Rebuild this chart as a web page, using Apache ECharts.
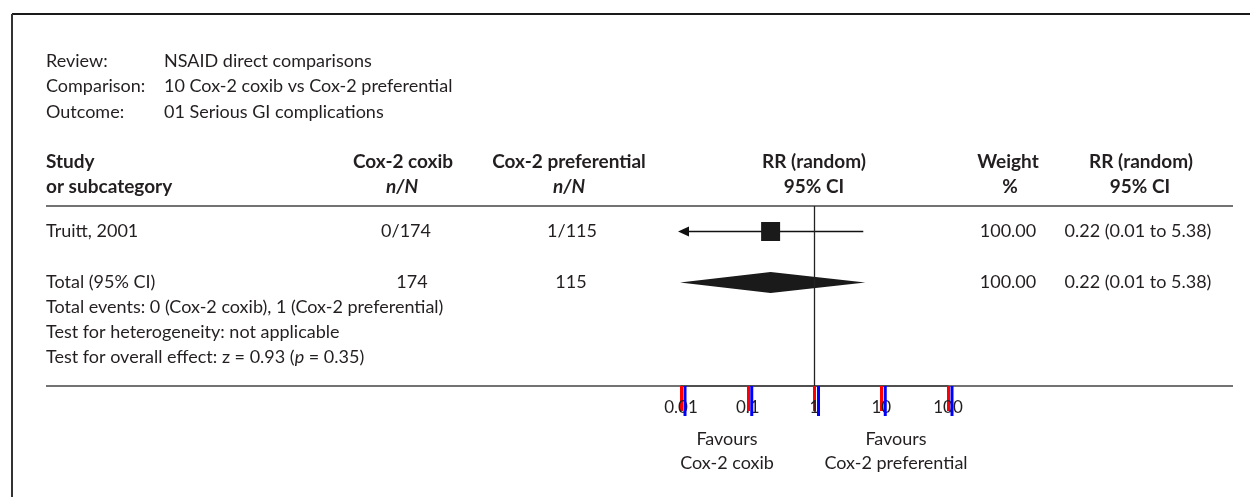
<!DOCTYPE html>
<html>
<head>
<meta charset="utf-8">
<script src="https://cdn.jsdelivr.net/npm/echarts@6/dist/echarts.min.js"></script>
<style>
html,body{margin:0;padding:0;background:#fff;}
#chart{width:1250px;height:497px;}
</style>
</head>
<body>
<div id="chart"></div>
<script>
// ---- data ----
const reviewLabels = ['Review:', 'Comparison:', 'Outcome:'];
const reviewValues = ['NSAID direct comparisons', '10 Cox-2 coxib vs Cox-2 preferential', '01 Serious GI complications'];
const studies = ['Truitt, 2001'];
const coxibNN = ['0/174'];
const prefNN = ['1/115'];
const studyRR = [0.22];
const studyLo = [0.01];
const studyHi = [5.38];
const studyWeight = ['100.00'];
const studyCIText = ['0.22 (0.01 to 5.38)'];
const totalLabel = 'Total (95% CI)';
const totalCoxib = '174';
const totalPref = '115';
const totalRR = 0.22;
const totalLo = 0.01;
const totalHi = 5.38;
const totalWeight = '100.00';
const totalCIText = '0.22 (0.01 to 5.38)';
const footnotes = ['Total events: 0 (Cox-2 coxib), 1 (Cox-2 preferential)', 'Test for heterogeneity: not applicable', 'Test for overall effect: z = 0.93 ({i|p} = 0.35)'];
const tickValues = [0.01, 0.1, 1, 10, 100];
const tickLabels = ['0.01', '0.1', '1', '10', '100'];
const favoursLeft = 'Favours\nCox-2 coxib';
const favoursRight = 'Favours\nCox-2 preferential';

// ---- styling ----
const FONT = 'Lato';
const INK = '#231f20';
const norm = '18px ' + FONT;
const bold = 'bold 19px ' + FONT;
const boldItal = 'italic bold 19px ' + FONT;
const AXMIN = 0.01;
const YMAX = 7.06;

const chart = echarts.init(document.getElementById('chart'));

function txt(text, x, y, align, font) {
  return { type: 'text', x: x, y: y, silent: true,
    style: { text: text, fill: INK, font: font || norm, align: align || 'left', verticalAlign: 'middle' } };
}

const graphics = [];
graphics.push({ type: 'line', shape: { x1: 12, y1: 14, x2: 1250, y2: 14 }, style: { stroke: '#1a1a1a', lineWidth: 2 } });
graphics.push({ type: 'line', shape: { x1: 12, y1: 14, x2: 12, y2: 497 }, style: { stroke: '#333', lineWidth: 2 } });
reviewLabels.forEach((l, i) => {
  graphics.push(txt(l, 46, 61 + i * 25.5, 'left'));
  graphics.push(txt(reviewValues[i], 164, 61 + i * 25.5, 'left'));
});
graphics.push(txt('Study', 46, 162, 'left', bold));
graphics.push(txt('or subcategory', 46, 187, 'left', bold));
graphics.push(txt('Cox-2 coxib', 403, 162, 'center', bold));
graphics.push(txt('n/N', 402, 187, 'center', boldItal));
graphics.push(txt('Cox-2 preferential', 569, 162, 'center', bold));
graphics.push(txt('n/N', 569, 187, 'center', boldItal));
graphics.push(txt('RR (random)', 814, 162, 'center', bold));
graphics.push(txt('95% CI', 814, 187, 'center', bold));
graphics.push(txt('Weight', 1008, 162, 'center', bold));
graphics.push(txt('%', 1010, 187, 'center', bold));
graphics.push(txt('RR (random)', 1141, 162, 'center', bold));
graphics.push(txt('95% CI', 1140, 187, 'center', bold));
graphics.push({ type: 'line', shape: { x1: 46, y1: 206, x2: 1233, y2: 206 }, style: { stroke: '#444', lineWidth: 1.5 } });
graphics.push({ type: 'line', shape: { x1: 46, y1: 386, x2: 1233, y2: 386 }, style: { stroke: '#444', lineWidth: 1.5 } });
footnotes.forEach((f, i) => {
  graphics.push({ type: 'text', x: 46, y: 307 + i * 25, silent: true,
    style: { text: f, fill: INK, font: norm, align: 'left', verticalAlign: 'middle',
      rich: { i: { fill: INK, fontFamily: FONT, fontSize: 18, fontStyle: 'italic' } } } });
});
graphics.push({ type: 'text', x: 727, y: 451, silent: true,
  style: { text: favoursLeft, fill: INK, font: norm, align: 'center', verticalAlign: 'middle', lineHeight: 24 } });
graphics.push({ type: 'text', x: 896, y: 451, silent: true,
  style: { text: favoursRight, fill: INK, font: norm, align: 'center', verticalAlign: 'middle', lineHeight: 24 } });

const studyData = studies.map((s, i) => [studyRR[i], studyLo[i], studyHi[i], 1 + i * 2, i]);
const totalRow = 1 + studies.length * 2;

function studyRender(params, api) {
  const i = api.value(4);
  const yv = YMAX - api.value(3);
  const c = api.coord([api.value(0), yv]);
  const loV = api.value(1), hiV = api.value(2);
  const left = api.coord([Math.max(loV, AXMIN), yv]);
  const right = api.coord([hiV, yv]);
  const y = c[1];
  const children = [];
  let x1 = left[0];
  if (loV <= AXMIN) {
    children.push({ type: 'polygon', shape: { points: [[x1 - 3, y], [x1 + 8, y - 5], [x1 + 8, y + 5]] }, style: { fill: '#111' } });
    x1 = x1 + 4;
  }
  children.push({ type: 'line', shape: { x1: x1, y1: y, x2: right[0], y2: y }, style: { stroke: '#111', lineWidth: 1.3 } });
  const s = 19;
  children.push({ type: 'rect', shape: { x: c[0] - s / 2, y: y - s / 2, width: s, height: s }, style: { fill: '#1a1a1a' } });
  children.push(txt(studies[i], 46, y, 'left'));
  children.push(txt(coxibNN[i], 406, y, 'center'));
  children.push(txt(prefNN[i], 572, y, 'center'));
  children.push(txt(studyWeight[i], 1008, y, 'center'));
  children.push(txt(studyCIText[i], 1138, y, 'center'));
  return { type: 'group', children: children };
}

function totalRender(params, api) {
  const yv = YMAX - api.value(3);
  const c = api.coord([api.value(0), yv]);
  const l = api.coord([Math.max(api.value(1), AXMIN), yv]);
  const r = api.coord([api.value(2), yv]);
  const y = c[1];
  const h = 10.5;
  return { type: 'group', children: [
    { type: 'polygon', shape: { points: [[l[0] - 1, y], [c[0], y - h], [r[0] + 2, y], [c[0], y + h]] }, style: { fill: '#1a1a1a' } },
    txt(totalLabel, 46, y, 'left'),
    txt(totalCoxib, 412, y, 'center'),
    txt(totalPref, 571, y, 'center'),
    txt(totalWeight, 1008, y, 'center'),
    txt(totalCIText, 1138, y, 'center')
  ] };
}

function tickRender(params, api) {
  const p = api.coord([api.value(0), 0]);
  return { type: 'line', shape: { x1: p[0] + 4, y1: p[1], x2: p[0] + 4, y2: p[1] + 30 }, style: { stroke: 'blue', lineWidth: 3 } };
}

chart.setOption({
  animation: false,
  grid: { left: 681, right: 302, top: 206, bottom: 111, containLabel: false },
  xAxis: {
    type: 'log', logBase: 10, min: 0.01, max: 100,
    axisLine: { show: true, lineStyle: { color: '#444', width: 1.5 } },
    axisTick: { show: true, length: 25, lineStyle: { color: 'red', width: 3 } },
    axisLabel: { show: true, margin: 13, color: INK, fontFamily: FONT, fontSize: 17,
      formatter: function (v) { const k = tickValues.findIndex(t => Math.abs(Math.log10(t) - Math.log10(v)) < 1e-6); return k >= 0 ? tickLabels[k] : ''; } },
    splitLine: { show: false }
  },
  yAxis: { type: 'value', min: 0, max: YMAX, show: false },
  graphic: graphics,
  series: [
    { type: 'custom', renderItem: studyRender, data: studyData, clip: false, silent: true,
      markLine: { silent: true, symbol: 'none', label: { show: false }, lineStyle: { color: '#222', width: 1.3, type: 'solid' },
        data: [{ xAxis: 1 }] } },
    { type: 'custom', renderItem: totalRender, data: [[totalRR, totalLo, totalHi, totalRow, 0]], clip: false, silent: true },
    { type: 'custom', renderItem: tickRender, data: tickValues.map(v => [v, 0]), clip: false, silent: true }
  ]
});
</script>
</body>
</html>
